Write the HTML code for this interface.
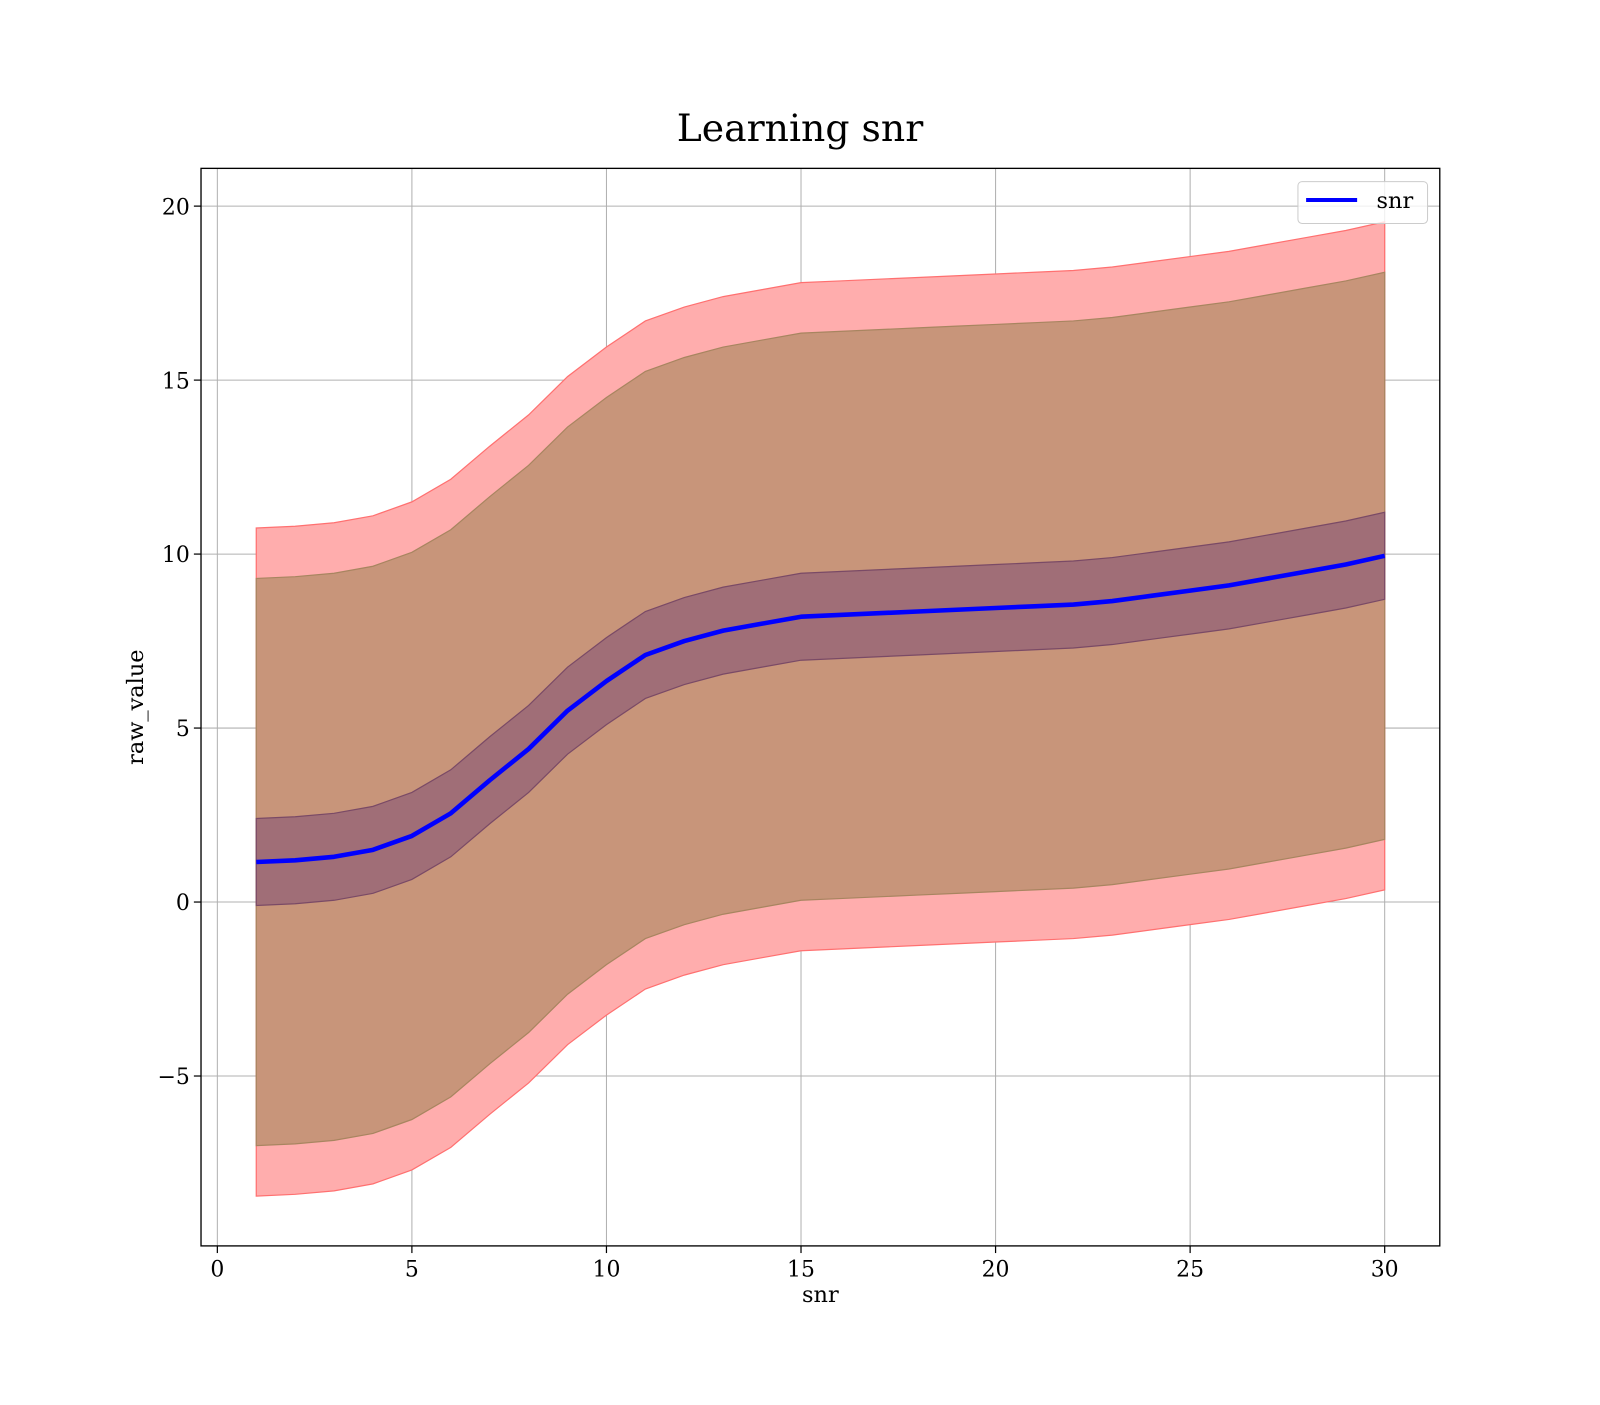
<!DOCTYPE html>
<html><head><meta charset="utf-8"><style>
body{margin:0;background:#fff;}
svg text{font-family:"DejaVu Serif","Liberation Serif",serif;fill:#000;}
</style></head><body>
<svg id="chart" width="1600" height="1400" xmlns="http://www.w3.org/2000/svg">
<rect width="1600" height="1400" fill="#fff"/>
<g transform="scale(1.0204)">
<text x="784" y="138" font-size="37" text-anchor="middle">Learning snr</text>
<g id="grid"></g>
<g id="bands"></g>
<g id="lines"></g>
<rect x="197" y="165" width="1214" height="1056" fill="none" stroke="#000" stroke-width="1.3"/>
<g id="ticks"></g>
<text x="804" y="1276" font-size="22" text-anchor="middle">snr</text>
<text x="140" y="693" font-size="22" text-anchor="middle" transform="rotate(-90 140 693)">raw_value</text>
<g>
<rect x="1272" y="178" width="127" height="41" rx="4" fill="#fff" fill-opacity="0.8" stroke="#ccc"/>
<line x1="1280" y1="196" x2="1330" y2="196" stroke="#0000ff" stroke-width="4"/>
<text x="1349" y="204" font-size="22">snr</text>
</g>
</g>
</svg>
<script>
const xs=[1,2,3,4,5,6,7,8,9,10,11,12,13,14,15,16,17,18,19,20,21,22,23,24,25,26,27,28,29,30];
const meanVals=[1.15,1.2,1.3,1.5,1.9,2.55,3.5,4.4,5.5,6.35,7.1,7.5,7.8,8.0,8.2,8.25,8.3,8.35,8.4,8.45,8.5,8.55,8.65,8.8,8.95,9.1,9.3,9.5,9.7,9.95];
const innerHalf=[1.25,1.25,1.25,1.25,1.25,1.25,1.25,1.25,1.25,1.25,1.25,1.25,1.25,1.25,1.25,1.25,1.25,1.25,1.25,1.25,1.25,1.25,1.25,1.25,1.25,1.25,1.25,1.25,1.25,1.25];
const midHalf=[8.15,8.15,8.15,8.15,8.15,8.15,8.15,8.15,8.15,8.15,8.15,8.15,8.15,8.15,8.15,8.15,8.15,8.15,8.15,8.15,8.15,8.15,8.15,8.15,8.15,8.15,8.15,8.15,8.15,8.15];
const outerHalf=[9.6,9.6,9.6,9.6,9.6,9.6,9.6,9.6,9.6,9.6,9.6,9.6,9.6,9.6,9.6,9.6,9.6,9.6,9.6,9.6,9.6,9.6,9.6,9.6,9.6,9.6,9.6,9.6,9.6,9.6];
const xTicks=[0,5,10,15,20,25,30];
const yTicks=[-5,0,5,10,15,20];
const yTickLabels=["\u22125","0","5","10","15","20"];
const X=v=>213+(v-0)*(1357-213)/30;
const Y=v=>884-v*(884-202)/20;
const NS="http://www.w3.org/2000/svg";
function mk(tag,attrs,parent){const e=document.createElementNS(NS,tag);for(const k in attrs)e.setAttribute(k,attrs[k]);parent.appendChild(e);return e;}
const grid=document.getElementById('grid'),ticks=document.getElementById('ticks'),bands=document.getElementById('bands'),lines=document.getElementById('lines');
xTicks.forEach(t=>{
 const l=mk('line',{x1:X(t),x2:X(t),y1:165,y2:1221,stroke:'#b0b0b0','stroke-width':1},grid);
 
 
 const tk=mk('line',{x1:X(t),x2:X(t),y1:1221,y2:1228,stroke:'#000','stroke-width':1.2},ticks);
 
 
 const tx=mk('text',{x:X(t),y:1251,'font-size':21.5,'text-anchor':'middle'},ticks);tx.textContent=t;
 
 
});
yTicks.forEach((t,i)=>{
 const l=mk('line',{x1:197,x2:1411,y1:Y(t),y2:Y(t),stroke:'#b0b0b0','stroke-width':1},grid);
 
 
 const tk=mk('line',{x1:190,x2:197,y1:Y(t),y2:Y(t),stroke:'#000','stroke-width':1.2},ticks);
 
 
 const tx=mk('text',{x:186,y:Y(t)+8,'font-size':21.5,'text-anchor':'end'},ticks);tx.textContent=yTickLabels[i];
 
 
});
function band(half,fill,stroke,name){
 let up=xs.map((x,i)=>X(x)+','+Y(meanVals[i]+half[i]));
 let dn=xs.map((x,i)=>X(x)+','+Y(meanVals[i]-half[i])).reverse();
 const p=mk('polygon',{points:up.concat(dn).join(' '),fill:fill,stroke:stroke,'stroke-width':1.2},bands);
 
 
}
band(outerHalf,'#ffadad','#ff7070','outer-band');
band(midHalf,'#c8957a','#a88560','middle-band');
band(innerHalf,'#a06e77','#7a4a66','inner-band');
const pl=mk('polyline',{points:xs.map((x,i)=>X(x)+','+Y(meanVals[i])).join(' '),fill:'none',stroke:'#0000ff','stroke-width':4.5,'stroke-linejoin':'round'},lines);


</script>
</body></html>
